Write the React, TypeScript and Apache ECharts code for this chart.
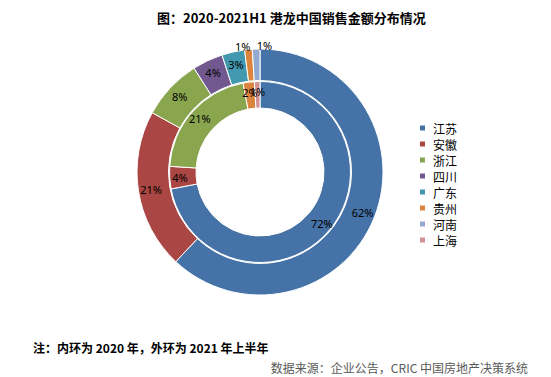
import React, { useEffect, useRef } from "react";
import * as echarts from "echarts";

const regions = ["江苏", "安徽", "浙江", "四川", "广东", "贵州", "河南", "上海"];
const regionColors = ["#4572A7", "#AA4643", "#89A54E", "#71588F", "#4198AF", "#DB843D", "#93A9CF", "#D19392"];

const inner2020Names = ["江苏", "安徽", "浙江", "贵州", "上海"];
const inner2020Values = [72, 4, 21, 2, 1];

const outer2021Names = ["江苏", "安徽", "浙江", "四川", "广东", "贵州", "河南"];
const outer2021Values = [62, 21, 8, 4, 3, 1, 1];

const titleText = "图：2020-2021H1 港龙中国销售金额分布情况";
const noteText = "注：内环为 2020 年，外环为 2021 年上半年";
const sourceText = "数据来源：企业公告，CRIC 中国房地产决策系统";

const colorOf = (name: string) => regionColors[regions.indexOf(name)];

const FONT = "'Noto Sans CJK SC', 'Noto Sans', sans-serif";

export default function App() {
  const ref = useRef<HTMLDivElement>(null);
  useEffect(() => {
    if (!ref.current) return;
    const chart = echarts.init(ref.current, undefined, { renderer: "svg" });
    const build = (names: string[], values: number[]) =>
      names.map((n, i) => ({ name: n, value: values[i], itemStyle: { color: colorOf(n) } }));
    const labelStyle = {
      show: true,
      position: "inside",
      formatter: "{c}%",
      fontSize: 11,
      color: "#000",
      fontFamily: "'Noto Sans', sans-serif",
    };
    chart.setOption({
      animation: false,
      backgroundColor: "#fff",
      title: [
        {
          text: titleText,
          left: 152,
          top: 6,
          textStyle: { fontSize: 13, fontWeight: "bold", color: "#000", fontFamily: FONT },
        },
        {
          text: noteText,
          left: 28,
          top: 336,
          textStyle: { fontSize: 12, fontWeight: "bold", color: "#000", fontFamily: FONT },
        },
        {
          text: sourceText,
          right: 18,
          top: 356,
          textStyle: { fontSize: 12, fontWeight: "normal", color: "#595959", fontFamily: FONT },
        },
      ],
      legend: {
        orient: "vertical",
        left: 413,
        top: 116,
        itemWidth: 7,
        itemHeight: 7,
        itemGap: 2,
        icon: "rect",
        data: regions,
        textStyle: { fontSize: 12, color: "#000", fontFamily: FONT, lineHeight: 14, padding: [0, 0, 0, 2] },
      },
      series: [
        {
          name: "2020",
          type: "pie",
          center: [260, 172],
          radius: [64, 90.5],
          startAngle: 90,
          clockwise: true,
          silent: true,
          avoidLabelOverlap: false,
          label: labelStyle,
          labelLine: { show: false },
          labelLayout: { hideOverlap: false },
          itemStyle: { borderColor: "#fff", borderWidth: 1 },
          data: build(inner2020Names, inner2020Values),
        },
        {
          name: "2021H1",
          type: "pie",
          center: [260, 172],
          radius: [91.5, 123],
          startAngle: 90,
          clockwise: true,
          silent: true,
          avoidLabelOverlap: false,
          label: labelStyle,
          labelLine: { show: false },
          labelLayout: (params: any) => {
            if (params.dataIndex === 5) return { dx: -7, dy: -16, hideOverlap: false };
            if (params.dataIndex === 6) return { dx: 8, dy: -16, hideOverlap: false };
            return { hideOverlap: false };
          },
          itemStyle: { borderColor: "#fff", borderWidth: 1 },
          data: build(outer2021Names, outer2021Values),
        },
      ],
    });
    return () => chart.dispose();
  }, []);
  return (
    <div
      ref={ref}
      style={{ position: "fixed", left: 0, top: 0, width: 551, height: 377, background: "#fff" }}
    />
  );
}
